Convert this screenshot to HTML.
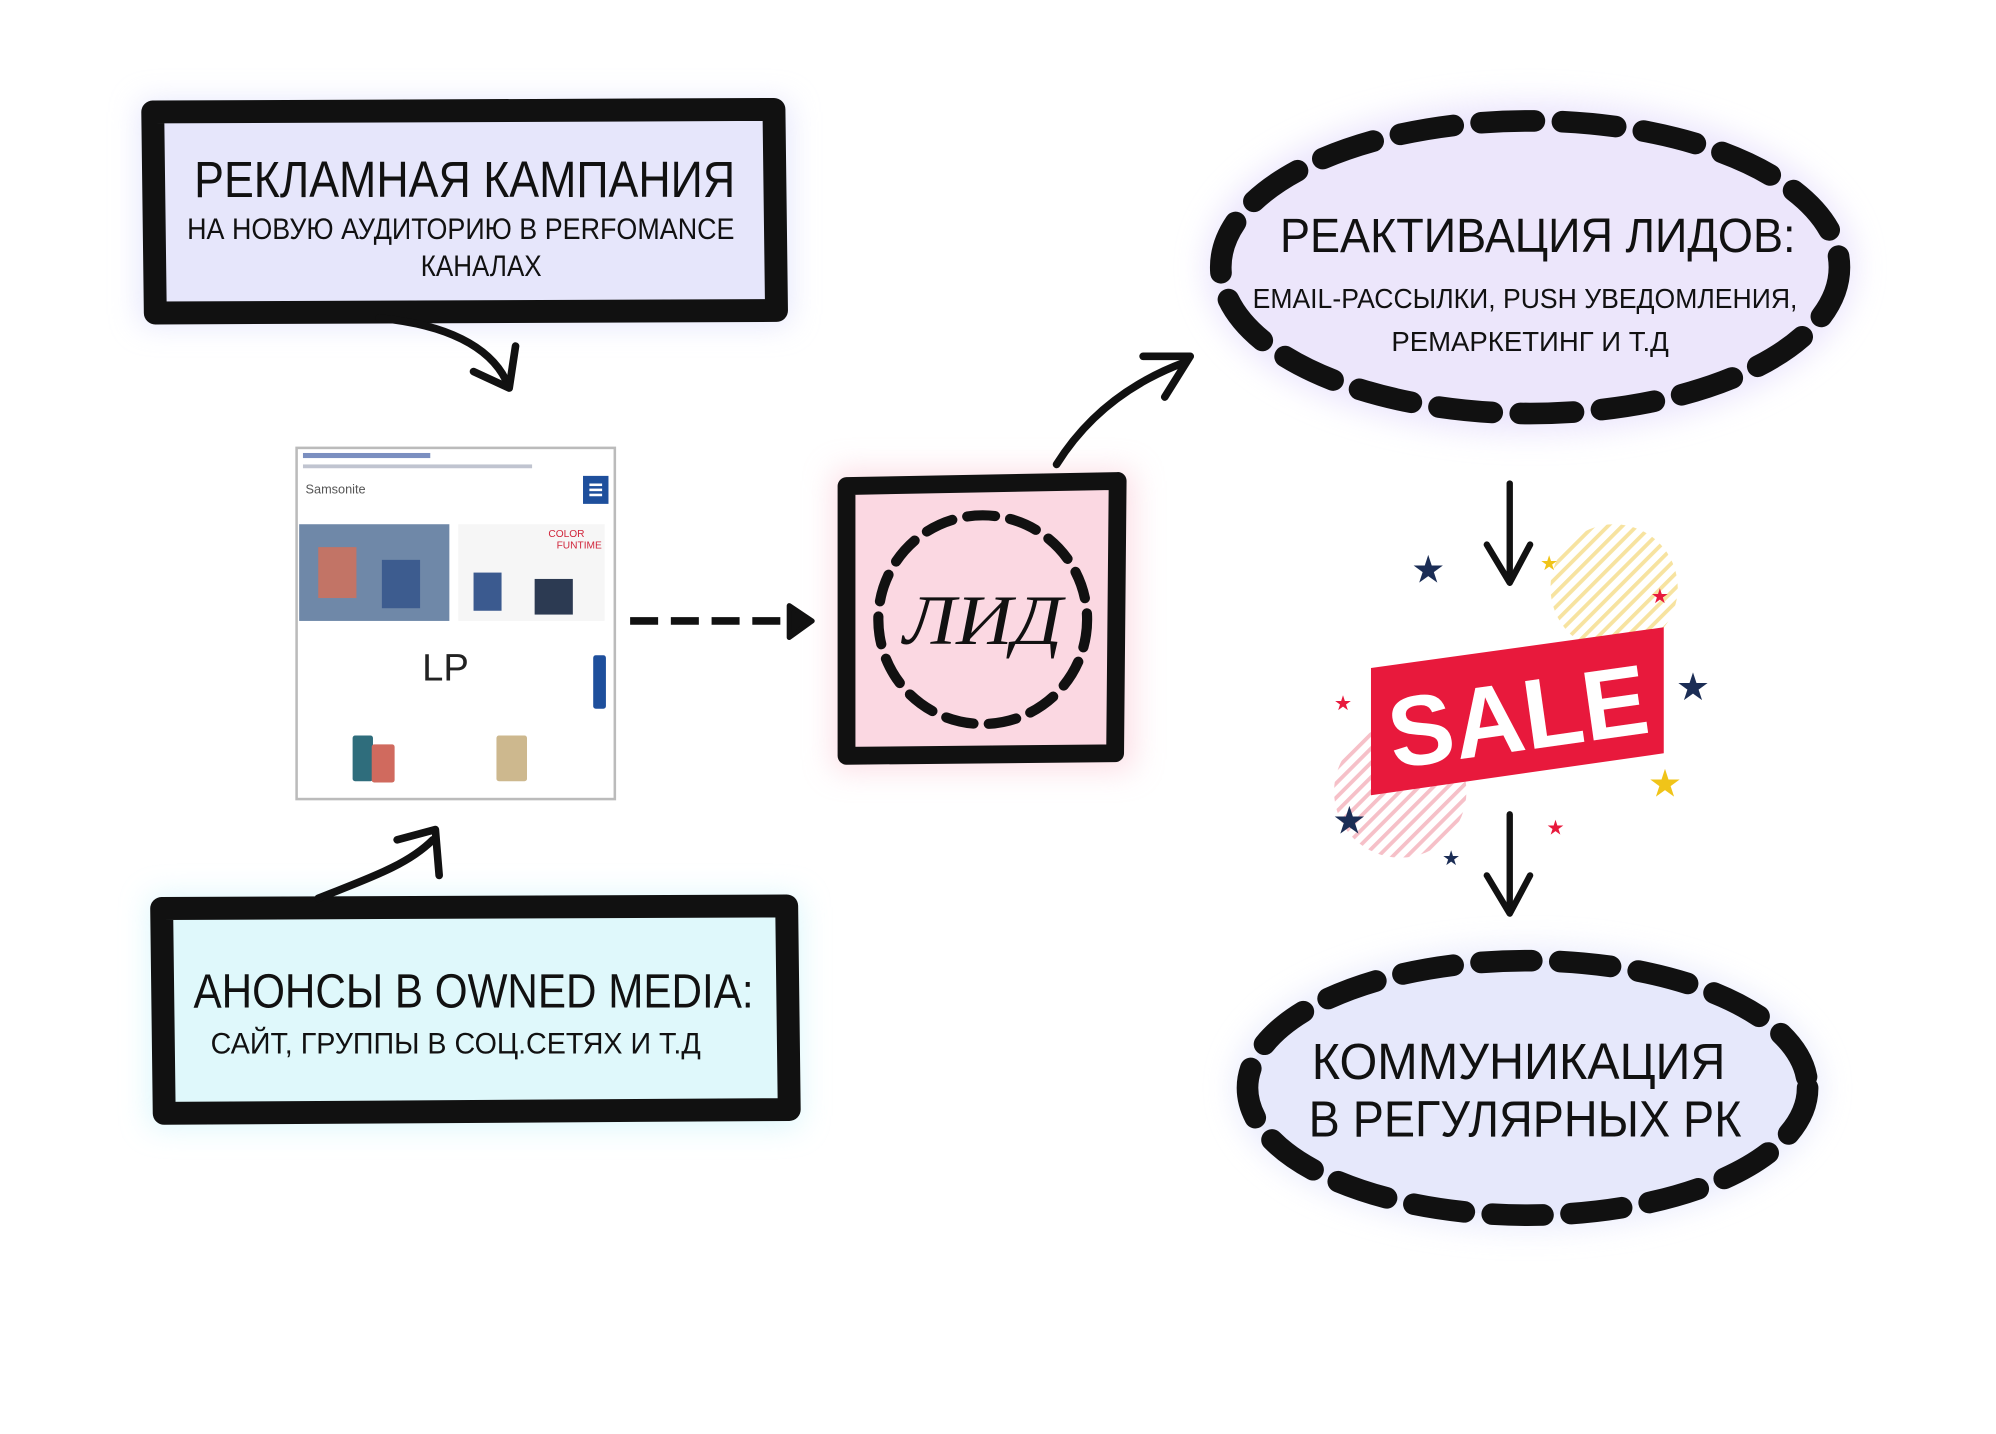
<!DOCTYPE html>
<html><head><meta charset="utf-8"><style>
html,body{margin:0;padding:0;background:#fff;}
svg{display:block}
text{font-family:"Liberation Sans","DejaVu Sans",sans-serif;fill:#111}
</style></head><body>
<svg width="1996" height="1434" viewBox="0 0 1568 1127" preserveAspectRatio="none" xmlns="http://www.w3.org/2000/svg">
<defs>
<filter id="glow" x="-20%" y="-30%" width="140%" height="160%"><feGaussianBlur stdDeviation="12"/></filter>
<pattern id="hatchY" width="8" height="8" patternUnits="userSpaceOnUse" patternTransform="rotate(45)"><rect width="8" height="8" fill="#fff"/><rect width="3" height="8" fill="#f7e3a0"/></pattern>
<pattern id="hatchR" width="8" height="8" patternUnits="userSpaceOnUse" patternTransform="rotate(45)"><rect width="8" height="8" fill="#fff"/><rect width="3" height="8" fill="#f6c0c8"/></pattern>
</defs>
<rect width="1568" height="1127" fill="#fff"/>

<!-- glows -->
<rect x="110" y="80" width="510" height="175" fill="#d9dbfb" filter="url(#glow)" opacity="0.7"/>
<rect x="118" y="705" width="510" height="180" fill="#c9f3fa" filter="url(#glow)" opacity="0.7"/>
<rect x="655" y="370" width="235" height="235" fill="#f9c6d3" filter="url(#glow)" opacity="0.6"/>
<ellipse cx="1202" cy="210" rx="255" ry="130" fill="#e2dafb" filter="url(#glow)" opacity="0.7"/>
<ellipse cx="1200" cy="855" rx="230" ry="110" fill="#dfe2fb" filter="url(#glow)" opacity="0.7"/>

<!-- Box 1 -->
<path d="M120 88 L608 86 L610 244 L122 246 Z" fill="#e6e6fb" stroke="#111" stroke-width="18" stroke-linejoin="round"/>
<text x="365" y="155" font-size="40" text-anchor="middle" textLength="425" lengthAdjust="spacingAndGlyphs">РЕКЛАМНАЯ КАМПАНИЯ</text>
<text x="362" y="188" font-size="23" text-anchor="middle" textLength="430" lengthAdjust="spacingAndGlyphs">НА НОВУЮ АУДИТОРИЮ В PERFOMANCE</text>
<text x="378" y="217" font-size="23" text-anchor="middle" textLength="95" lengthAdjust="spacingAndGlyphs">КАНАЛАХ</text>
<path d="M298 250 C350 255 385 272 398 300" fill="none" stroke="#111" stroke-width="6" stroke-linecap="round"/>
<path d="M372 292 L400 305 L405 272" fill="none" stroke="#111" stroke-width="6" stroke-linecap="round" stroke-linejoin="round"/>

<!-- LP screenshot -->
<rect x="233" y="352" width="250" height="276" fill="#fff" stroke="#bbb" stroke-width="2"/>
<rect x="238" y="356" width="100" height="4" fill="#7b8fc0"/>
<rect x="238" y="365" width="180" height="3" fill="#c0c4d0"/>
<text x="240" y="388" font-size="10" fill="#444" style="fill:#555">Samsonite</text>
<rect x="458" y="374" width="20" height="22" fill="#1e4f9c"/>
<rect x="463" y="380" width="10" height="2" fill="#fff"/><rect x="463" y="384" width="10" height="2" fill="#fff"/><rect x="463" y="388" width="10" height="2" fill="#fff"/>
<rect x="235" y="412" width="118" height="76" fill="#6f88a8"/>
<rect x="250" y="430" width="30" height="40" fill="#c27466"/><rect x="300" y="440" width="30" height="38" fill="#3d5c8f"/>
<rect x="360" y="412" width="115" height="76" fill="#f6f6f6"/>
<rect x="372" y="450" width="22" height="30" fill="#3b5a8f"/><rect x="420" y="455" width="30" height="28" fill="#2c3a52"/>
<text x="445" y="422" font-size="8" style="fill:#d0243a" text-anchor="middle">COLOR</text>
<text x="455" y="431" font-size="8" style="fill:#d0243a" text-anchor="middle">FUNTIME</text>
<text x="350" y="535" font-size="30" text-anchor="middle" style="fill:#222">LP</text>
<rect x="466" y="515" width="10" height="42" rx="2" fill="#1e4f9c"/>
<rect x="277" y="578" width="16" height="36" rx="2" fill="#2f6d7c"/><rect x="292" y="585" width="18" height="30" rx="2" fill="#d06a5e"/>
<rect x="390" y="578" width="24" height="36" rx="2" fill="#cdb88e"/>

<!-- Box 2 -->
<path d="M127 714 L618 712 L620 872 L129 875 Z" fill="#dff8fb" stroke="#111" stroke-width="18" stroke-linejoin="round"/>
<text x="372" y="792" font-size="38" text-anchor="middle" textLength="440" lengthAdjust="spacingAndGlyphs">АНОНСЫ В OWNED MEDIA:</text>
<text x="358" y="828" font-size="23" text-anchor="middle" textLength="385" lengthAdjust="spacingAndGlyphs">САЙТ, ГРУППЫ В СОЦ.СЕТЯХ И Т.Д</text>
<path d="M250 706 C290 690 320 680 340 660" fill="none" stroke="#111" stroke-width="6" stroke-linecap="round"/>
<path d="M312 660 L342 652 L345 688" fill="none" stroke="#111" stroke-width="6" stroke-linecap="round" stroke-linejoin="round"/>

<!-- dashed arrow -->
<line x1="495" y1="488" x2="625" y2="488" stroke="#111" stroke-width="6" stroke-dasharray="22 10"/>
<path d="M620 476 L638 488 L620 501 Z" fill="#111" stroke="#111" stroke-width="4" stroke-linejoin="round"/>

<!-- ЛИД -->
<path d="M665 382 L878 378 L876 592 L665 594 Z" fill="#fbd8e2" stroke="#111" stroke-width="14" stroke-linejoin="round"/>
<circle cx="772" cy="487" r="82" fill="none" stroke="#111" stroke-width="8" stroke-dasharray="22 12" stroke-linecap="round"/>
<text x="772" y="506" font-size="56" text-anchor="middle" font-style="italic" style="font-family:'Liberation Serif',serif" textLength="125" lengthAdjust="spacingAndGlyphs">ЛИД</text>
<path d="M830 365 C855 325 890 300 930 285" fill="none" stroke="#111" stroke-width="6" stroke-linecap="round"/>
<path d="M898 280 L935 280 L915 312" fill="none" stroke="#111" stroke-width="6" stroke-linecap="round" stroke-linejoin="round"/>

<!-- Top right ellipse -->
<ellipse cx="1202" cy="210" rx="243" ry="115" fill="#ece6fb" stroke="#111" stroke-width="17" stroke-dasharray="42 22" stroke-linecap="round"/>
<text x="1208" y="198" font-size="38" text-anchor="middle" textLength="405" lengthAdjust="spacingAndGlyphs">РЕАКТИВАЦИЯ ЛИДОВ:</text>
<text x="1198" y="242" font-size="22" text-anchor="middle" textLength="428" lengthAdjust="spacingAndGlyphs">EMAIL-РАССЫЛКИ, PUSH УВЕДОМЛЕНИЯ,</text>
<text x="1202" y="276" font-size="22" text-anchor="middle" textLength="218" lengthAdjust="spacingAndGlyphs">РЕМАРКЕТИНГ И Т.Д</text>

<!-- down arrows -->
<line x1="1186" y1="380" x2="1186" y2="455" stroke="#111" stroke-width="5" stroke-linecap="round"/>
<path d="M1168 428 L1186 458 L1202 428" fill="none" stroke="#111" stroke-width="5" stroke-linecap="round" stroke-linejoin="round"/>
<line x1="1186" y1="640" x2="1186" y2="715" stroke="#111" stroke-width="5" stroke-linecap="round"/>
<path d="M1168 688 L1186 718 L1202 688" fill="none" stroke="#111" stroke-width="5" stroke-linecap="round" stroke-linejoin="round"/>

<!-- SALE -->
<circle cx="1268" cy="462" r="50" fill="url(#hatchY)"/>
<circle cx="1100" cy="622" r="52" fill="url(#hatchR)"/>
<polygon points="1077,525 1307,493 1307,592 1077,625" fill="#e8193c"/>
<text x="1192" y="590" font-size="78" font-weight="bold" text-anchor="middle" transform="rotate(-8 1192 560)" style="fill:#fff" textLength="205" lengthAdjust="spacingAndGlyphs">SALE</text>
<g font-size="30" text-anchor="middle">
<text x="1122" y="458" style="fill:#1b2d55">★</text>
<text x="1330" y="550" style="fill:#1b2d55">★</text>
<text x="1060" y="655" style="fill:#1b2d55">★</text>
<text x="1308" y="626" style="fill:#f0c419">★</text>
</g>
<g font-size="16" text-anchor="middle">
<text x="1217" y="448" style="fill:#f0c419">★</text>
<text x="1304" y="474" style="fill:#e8193c">★</text>
<text x="1055" y="558" style="fill:#e8193c">★</text>
<text x="1140" y="680" style="fill:#1b2d55">★</text>
<text x="1222" y="656" style="fill:#e8193c">★</text>
</g>

<!-- bottom ellipse -->
<ellipse cx="1200" cy="855" rx="220" ry="100" fill="#e6e8fb" stroke="#111" stroke-width="17" stroke-dasharray="40 22" stroke-linecap="round"/>
<text x="1193" y="848" font-size="40" text-anchor="middle" textLength="325" lengthAdjust="spacingAndGlyphs">КОММУНИКАЦИЯ</text>
<text x="1198" y="893" font-size="40" text-anchor="middle" textLength="340" lengthAdjust="spacingAndGlyphs">В РЕГУЛЯРНЫХ РК</text>
</svg>
</body></html>
